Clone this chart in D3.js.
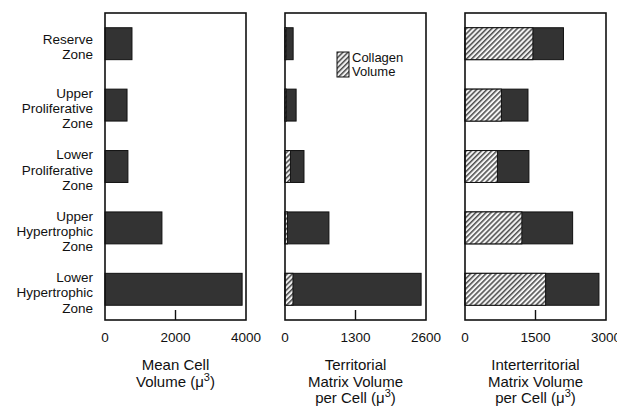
<!DOCTYPE html>
<html>
<head>
<meta charset="utf-8">
<script src="https://cdn.jsdelivr.net/npm/d3@7"></script>
<style>
  body { margin: 0; background: #fff; }
  svg text { font-family: "Liberation Sans", Arial, Helvetica, sans-serif; fill: #111; }
  .frame { fill: none; stroke: #111; stroke-width: 1.6; }
  .solid { fill: #333; stroke: #111; stroke-width: 1; }
  .hatch { fill: url(#hatch); stroke: #111; stroke-width: 1; }
</style>
</head>
<body>
<div id="chart"></div>
<script>
// zones, top to bottom
var zones = ["Reserve Zone", "Upper Proliferative Zone", "Lower Proliferative Zone",
             "Upper Hypertrophic Zone", "Lower Hypertrophic Zone"];
var zoneLines = [["Reserve", "Zone"], ["Upper", "Proliferative", "Zone"],
                 ["Lower", "Proliferative", "Zone"], ["Upper", "Hypertrophic", "Zone"],
                 ["Lower", "Hypertrophic", "Zone"]];

// panel 1: mean cell volume
var cellVolume = [765, 625, 650, 1615, 3890];
// panel 2: territorial matrix volume per cell, total and collagen part
var territorialTotal = [150, 205, 350, 810, 2510];
var territorialCollagen = [20, 25, 100, 45, 147];
// panel 3: interterritorial matrix volume per cell, total and collagen part
var interTotal = [2095, 1340, 1360, 2290, 2850];
var interCollagen = [1445, 775, 690, 1210, 1715];

var maxes = [4000, 2600, 3000];
var tickVals = [[0, 2000, 4000], [0, 1300, 2600], [0, 1500, 3000]];
var titles = [["Mean Cell", "Volume (\u03bc", ")"],
              ["Territorial", "Matrix Volume", "per Cell (\u03bc", ")"],
              ["Interterritorial", "Matrix Volume", "per Cell (\u03bc", ")"]];

var width = 617, height = 408;
var plotTop = 13, plotBottom = 320;
var panelLeft = [105, 285, 465], panelW = 141;

var svg = d3.select("#chart").append("svg")
    .attr("width", width)
    .attr("height", height);

// hatch pattern for collagen
var defs = svg.append("defs");
var pat = defs.append("pattern")
    .attr("id", "hatch")
    .attr("patternUnits", "userSpaceOnUse")
    .attr("width", 3.6).attr("height", 3.6)
    .attr("patternTransform", "rotate(45)");
pat.append("rect").attr("width", 3.6).attr("height", 3.6).attr("fill", "#f4f4f4");
pat.append("line").attr("x1", 0.8).attr("y1", 0).attr("x2", 0.8).attr("y2", 3.6)
    .attr("stroke", "#222").attr("stroke-width", 1.2);

var y = d3.scaleBand()
    .domain(zones)
    .range([plotTop, plotBottom])
    .paddingInner(0.48)
    .paddingOuter(0.24);

// zone labels
var lab = svg.append("g").selectAll("text")
    .data(zones)
  .enter().append("text")
    .attr("text-anchor", "end")
    .style("font-size", "13.5px")
    .attr("y", function(d, i) {
      var n = zoneLines[i].length;
      return y(d) + y.bandwidth() / 2 + 3 - (n - 1) * 15.3 / 2 + 5;
    });
lab.each(function(d, i) {
  var t = d3.select(this);
  zoneLines[i].forEach(function(s, j) {
    t.append("tspan").attr("x", 93).attr("dy", j === 0 ? 0 : 15.3).text(s);
  });
});

function panel(p, totals, collagen) {
  var x = d3.scaleLinear()
      .domain([0, maxes[p]])
      .range([panelLeft[p], panelLeft[p] + panelW]);
  var g = svg.append("g");

  g.selectAll(".solid")
      .data(totals)
    .enter().append("rect")
      .attr("class", "solid")
      .attr("x", x(0))
      .attr("y", function(d, i) { return y(zones[i]); })
      .attr("width", function(d) { return x(d) - x(0); })
      .attr("height", y.bandwidth());

  if (collagen) {
    g.selectAll(".hatch")
        .data(collagen)
      .enter().append("rect")
        .attr("class", "hatch")
        .attr("x", x(0))
        .attr("y", function(d, i) { return y(zones[i]); })
        .attr("width", function(d) { return x(d) - x(0); })
        .attr("height", y.bandwidth());
  }

  // frame
  g.append("rect")
      .attr("class", "frame")
      .attr("x", x(0)).attr("y", plotTop)
      .attr("width", x(maxes[p]) - x(0)).attr("height", plotBottom - plotTop);

  // middle tick
  g.append("line")
      .attr("x1", x(tickVals[p][1])).attr("x2", x(tickVals[p][1]))
      .attr("y1", plotBottom).attr("y2", plotBottom - 10)
      .attr("stroke", "#111").attr("stroke-width", 1.4);

  // tick labels
  g.selectAll(".tl")
      .data(tickVals[p])
    .enter().append("text")
      .attr("class", "tl")
      .attr("x", function(d) { return x(d); })
      .attr("y", 342)
      .attr("text-anchor", "middle")
      .style("font-size", "13.5px")
      .text(function(d) { return d; });

  // axis title
  var cx = (x(0) + x(maxes[p])) / 2;
  var lines = titles[p];
  var nl = lines.length - 1;
  for (var i = 0; i < nl; i++) {
    var t = g.append("text")
        .attr("x", cx)
        .attr("y", 370 + i * 16.5)
        .attr("text-anchor", "middle")
        .style("font-size", "15px");
    if (i === nl - 1) {
      t.append("tspan").text(lines[i]);
      t.append("tspan").attr("dy", -6).style("font-size", "11px").text("3");
      t.append("tspan").attr("dy", 6).text(lines[nl]);
    } else {
      t.text(lines[i]);
    }
  }
  return x;
}

panel(0, cellVolume, null);
panel(1, territorialTotal, territorialCollagen);
panel(2, interTotal, interCollagen);

// legend inside panel 2
var lg = svg.append("g").attr("transform", "translate(337,52)");
lg.append("rect").attr("class", "hatch")
    .attr("width", 12).attr("height", 25);
lg.append("text").attr("x", 15).attr("y", 10).style("font-size", "13px").text("Collagen");
lg.append("text").attr("x", 15).attr("y", 24).style("font-size", "13px").text("Volume");
</script>
</body>
</html>
